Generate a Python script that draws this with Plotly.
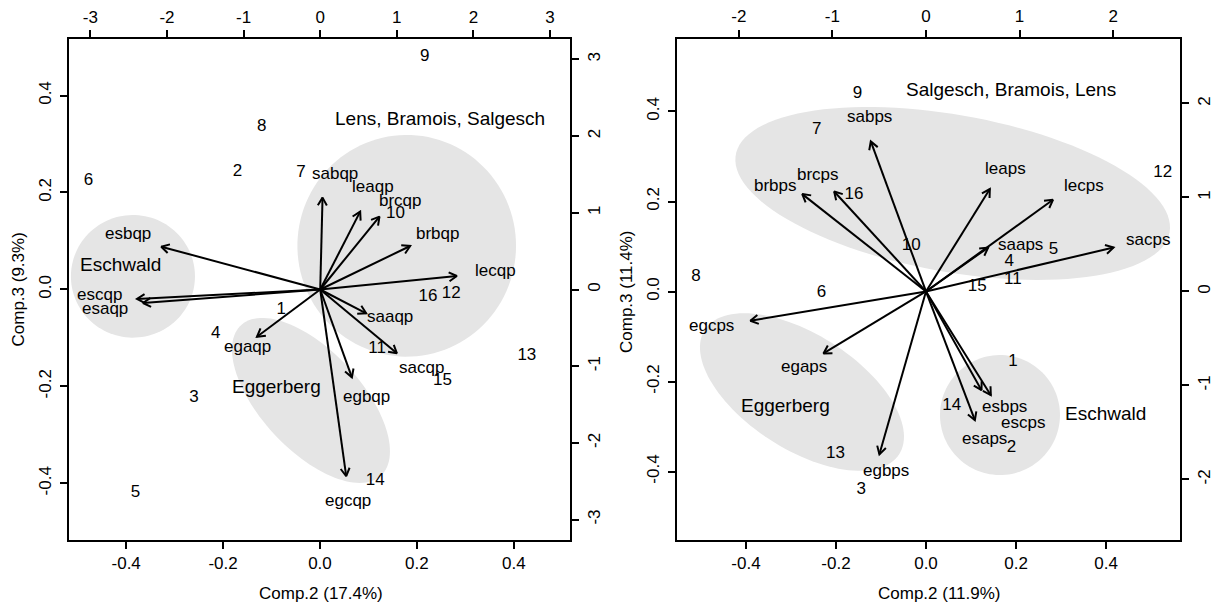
import numpy as np
import plotly.graph_objects as go

# ---------------- data ----------------
obs_labels = [str(i) for i in range(1, 17)]

# left biplot: scores (Comp.2, Comp.3) and loadings of the "qp" variables
qp_comp2 = [-0.080, -0.170, -0.260, -0.215, -0.381, -0.478, -0.039, -0.120,
            0.216, 0.156, 0.118, 0.271, 0.427, 0.114, 0.253, 0.223]
qp_comp3 = [-0.041, 0.243, -0.223, -0.092, -0.419, 0.224, 0.240, 0.336,
            0.481, 0.157, -0.123, -0.009, -0.137, -0.395, -0.189, -0.015]
qp_vars = ["sabqp", "leaqp", "brcqp", "brbqp", "lecqp", "saaqp", "sacqp",
           "egbqp", "egcqp", "egaqp", "esbqp", "escqp", "esaqp"]
qp_load2 = [0.038, 0.652, 0.967, 1.468, 2.229, 0.750, 1.251,
            0.517, 0.424, -1.032, -2.593, -2.989, -2.891]
qp_load3 = [1.497, 1.269, 1.187, 0.709, 0.220, -0.388, -1.040,
            -1.432, -3.041, -0.770, 0.698, -0.155, -0.220]

# right biplot: "ps" variables
ps_comp2 = [0.193, 0.190, -0.144, 0.185, 0.283, -0.232, -0.243, -0.511,
            -0.152, -0.033, 0.193, 0.526, -0.201, 0.057, 0.114, -0.160]
ps_comp3 = [-0.156, -0.348, -0.440, 0.066, 0.092, -0.002, 0.359, 0.033,
            0.440, 0.101, 0.027, 0.264, -0.361, -0.254, 0.011, 0.214]
ps_vars = ["sabps", "brcps", "brbps", "leaps", "lecps", "saaps", "sacps",
           "egcps", "egaps", "egbps", "esbps", "escps", "esaps"]
ps_load2 = [-0.737, -1.226, -1.652, 0.853, 1.696, 0.830, 2.505,
            -2.345, -1.369, -0.622, 0.742, 0.866, 0.653]
ps_load3 = [1.996, 1.330, 1.295, 1.362, 1.219, 0.584, 0.584,
            -0.389, -0.824, -2.166, -1.313, -1.379, -1.712]

score_ticks = [-0.4, -0.2, 0.0, 0.2, 0.4]
score_ticktext = ["-0.4", "-0.2", "0.0", "0.2", "0.4"]
qp_load_ticks = [-3, -2, -1, 0, 1, 2, 3]
ps_load_ticks = [-2, -1, 0, 1, 2]

# ---------------- layout / style constants ----------------
W, H = 1212, 605
FONT = "Liberation Sans, Arial, Helvetica, sans-serif"
FS = 17
ELL_COLOR = "#e5e5e5"

P1 = dict(x0=68.5, x1=570, y0=39.3, y1=540,
          xr=[-0.519, 0.516], yr=[-0.517, 0.516],
          txr=[-3.285, 3.26], tyr=[-3.266, 3.262],
          ids=("x", "y", "x2", "y2"))
P2 = dict(x0=677, x1=1180, y0=39, y1=540,
          xr=[-0.5533, 0.5644], yr=[-0.552, 0.561],
          txr=[-2.660, 2.714], tyr=[-2.644, 2.686],
          ids=("x3", "y3", "x4", "y4"))

# group ellipses (centre, semi-axes, rotation in degrees) in score units
ell_left = [((0.179, 0.090), 0.2256, 0.2287, 0.0),
            ((-0.386, 0.027), 0.128, 0.1265, 0.0),
            ((-0.0186, -0.229), 0.212, 0.103, -47.0)]
ell_right = [((0.0593, 0.2178), 0.4896, 0.1744, -10.15),
             ((-0.2756, -0.2233), 0.2564, 0.1276, -32.6),
             ((0.1644, -0.2744), 0.1333, 0.1333, 0.0)]

groups_left = [("Lens, Bramois, Salgesch", 0.248, 0.352),
               ("Eschwald", -0.411, 0.052),
               ("Eggerberg", -0.090, -0.201)]
groups_right = [("Salgesch, Bramois, Lens", 0.189, 0.449),
                ("Eggerberg", -0.313, -0.254),
                ("Eschwald", 0.398, -0.271)]

# pixel nudges of variable labels (dx right, dy down)
nudge_left = {"sabqp": (12, -1.5), "leaqp": (3, -5.5), "brcqp": (6, 2.5),
              "brbqp": (5, -2), "lecqp": (4, -2), "saaqp": (12.5, -2.5),
              "sacqp": (5, -2), "egbqp": (7, -2.5), "egcqp": (-4.5, -22.6),
              "egaqp": (6, -2.5), "esbqp": (6, -2), "escqp": (8.5, -7),
              "esaqp": (6.5, 2)}
nudge_right = {"sabps": (13, 13), "brcps": (6.7, 8), "brbps": (4, 16),
               "leaps": (0, 5.5), "lecps": (-1, 9), "saaps": (17, 7.5),
               "sacps": (-12.7, 2.5), "egcps": (4.7, -3), "egaps": (6.4, -2),
               "egbps": (18, -25), "esbps": (9.4, -8), "escps": (16, 1),
               "esaps": (-3, -14)}

fig = go.Figure()
layout = {}
annotations = []
shapes = []


def axis_common():
    return dict(showline=True, linecolor="black", linewidth=2,
                ticks="outside", ticklen=7, tickwidth=2, tickcolor="black",
                showgrid=False, zeroline=False, automargin=False,
                fixedrange=True,
                tickfont=dict(family=FONT, size=FS, color="black"))


def ellipse_path(c, a, b, deg):
    t = np.linspace(0, 2 * np.pi, 120)
    ph = np.deg2rad(deg)
    x = c[0] + a * np.cos(t) * np.cos(ph) - b * np.sin(t) * np.sin(ph)
    y = c[1] + a * np.cos(t) * np.sin(ph) + b * np.sin(t) * np.cos(ph)
    pts = " L ".join(f"{xx:.5f},{yy:.5f}" for xx, yy in zip(x, y))
    return "M " + pts + " Z"


def add_panel(P, comp2, comp3, names, load2, load3, lticks, ells, groups, nudges):
    bx, by, tx, ty = P["ids"]
    dom_x = [P["x0"] / W, P["x1"] / W]
    dom_y = [1 - P["y1"] / H, 1 - P["y0"] / H]
    kx = "xaxis" + bx[1:]
    ky = "yaxis" + by[1:]
    ktx = "xaxis" + tx[1:]
    kty = "yaxis" + ty[1:]
    layout[kx] = dict(axis_common(), domain=dom_x, range=P["xr"], anchor=by,
                      side="bottom", tickvals=score_ticks,
                      ticktext=score_ticktext, ticklabelstandoff=0)
    layout[ky] = dict(axis_common(), domain=dom_y, range=P["yr"], anchor=bx,
                      side="left", tickvals=score_ticks,
                      ticktext=score_ticktext, tickangle=-90,
                      ticklabelstandoff=2)
    layout[ktx] = dict(axis_common(), range=P["txr"], anchor=by,
                       overlaying=bx, side="top", tickvals=lticks,
                       ticktext=[str(v) for v in lticks], ticklabelstandoff=1)
    layout[kty] = dict(axis_common(), range=P["tyr"], anchor=bx,
                       overlaying=by, side="right", tickvals=lticks,
                       ticktext=[str(v) for v in lticks], tickangle=-90,
                       ticklabelstandoff=1)

    # ellipses
    for c, a, b, deg in ells:
        shapes.append(dict(type="path", path=ellipse_path(c, a, b, deg),
                           xref=bx, yref=by, fillcolor=ELL_COLOR,
                           line=dict(width=0), layer="below"))

    # arrows (loadings, top/right axes) : shaft to 0.8*loading + open head
    ppx = (P["x1"] - P["x0"]) / (P["txr"][1] - P["txr"][0])
    ppy = (P["y1"] - P["y0"]) / (P["tyr"][1] - P["tyr"][0])
    L = 9.0
    xs, ys = [], []
    for lx, ly in zip(load2, load3):
        ex, ey = 0.8 * lx, 0.8 * ly
        xs += [0, ex, None]
        ys += [0, ey, None]
        ang = np.arctan2(ey * ppy, ex * ppx)
        b = []
        for s in (1, -1):
            a = ang + np.pi + s * np.pi / 6
            b.append((ex + L * np.cos(a) / ppx, ey + L * np.sin(a) / ppy))
        xs += [b[0][0], ex, b[1][0], None]
        ys += [b[0][1], ey, b[1][1], None]
    fig.add_trace(go.Scatter(x=xs, y=ys, xaxis=tx, yaxis=ty, mode="lines",
                             line=dict(color="black", width=2),
                             hoverinfo="skip", showlegend=False))

    # variable labels
    for nm, lx, ly in zip(names, load2, load3):
        dx, dy = nudges.get(nm, (0, 0))
        annotations.append(dict(x=lx, y=ly, xref=tx, yref=ty, text=nm,
                                showarrow=False, xshift=dx, yshift=-dy,
                                font=dict(family=FONT, size=FS, color="black")))

    # observation numbers
    fig.add_trace(go.Scatter(x=comp2, y=comp3, xaxis=bx, yaxis=by,
                             mode="text", text=obs_labels,
                             textposition="middle center",
                             textfont=dict(family=FONT, size=FS, color="black"),
                             hoverinfo="skip", showlegend=False))

    # group labels
    for txt, gx, gy in groups:
        annotations.append(dict(x=gx, y=gy, xref=bx, yref=by, text=txt,
                                showarrow=False,
                                font=dict(family=FONT, size=19, color="black")))


add_panel(P1, qp_comp2, qp_comp3, qp_vars, qp_load2, qp_load3,
          qp_load_ticks, ell_left, groups_left, nudge_left)
add_panel(P2, ps_comp2, ps_comp3, ps_vars, ps_load2, ps_load3,
          ps_load_ticks, ell_right, groups_right, nudge_right)

# axis titles
titles = [("Comp.2 (17.4%)", 321, 593, 0),
          ("Comp.3 (9.3%)", 17.5, 290, -90),
          ("Comp.2 (11.9%)", 940, 593, 0),
          ("Comp.3 (11.4%)", 626, 292, -90)]
for txt, px, py, ang in titles:
    annotations.append(dict(x=px / W, y=1 - py / H, xref="paper", yref="paper",
                            text=txt, showarrow=False, textangle=ang,
                            xanchor="center", yanchor="middle",
                            font=dict(family=FONT, size=FS, color="black")))

fig.update_layout(**layout)
fig.update_layout(width=W, height=H, margin=dict(l=0, r=0, t=0, b=0),
                  paper_bgcolor="white", plot_bgcolor="white",
                  showlegend=False, annotations=annotations, shapes=shapes,
                  font=dict(family=FONT, size=FS, color="black"))

fig.write_html("out.html", config={"displayModeBar": False},
               post_script="document.body.style.margin='0';"
                           "document.body.style.padding='0';")
